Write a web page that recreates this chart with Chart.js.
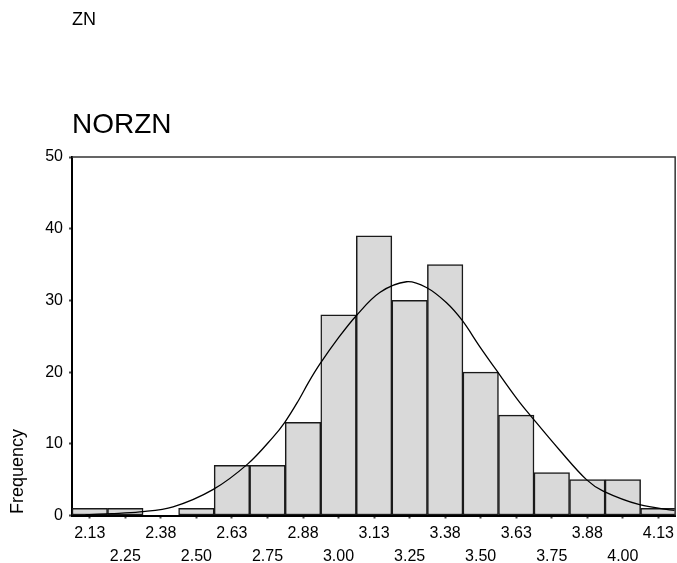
<!DOCTYPE html>
<html>
<head>
<meta charset="utf-8">
<script src="https://cdn.jsdelivr.net/npm/chart.js@4"></script>
<style>
  html, body { margin: 0; padding: 0; background: #ffffff; }
  #wrap { width: 677px; height: 563px; position: relative; }
</style>
</head>
<body>
<div id="wrap"><canvas id="c" width="677" height="563"></canvas></div>
<script>
// ---- data ----
const binCenters = [2.125, 2.25, 2.375, 2.5, 2.625, 2.75, 2.875, 3.0, 3.125, 3.25, 3.375, 3.5, 3.625, 3.75, 3.875, 4.0, 4.125];
const tickLabels = ["2.13", "2.25", "2.38", "2.50", "2.63", "2.75", "2.88", "3.00", "3.13", "3.25", "3.38", "3.50", "3.63", "3.75", "3.88", "4.00", "4.13"];
const counts = [1, 1, 0, 1, 7, 7, 13, 28, 39, 30, 35, 20, 14, 6, 5, 5, 1];
const curveX = [2.11, 2.20, 2.301, 2.418, 2.558, 2.681, 2.769, 2.811, 2.857, 2.895, 2.934, 3.000, 3.063, 3.145, 3.239, 3.309, 3.379, 3.435, 3.496, 3.560, 3.631, 3.678, 3.778, 3.872, 3.931, 4.059, 4.182];
const curveY = [0.1, 0.25, 0.5, 1.2, 3.6, 7.2, 10.9, 13.0, 15.9, 18.6, 21.1, 24.8, 27.9, 31.1, 32.6, 31.8, 29.7, 27.2, 23.6, 20.0, 16.1, 13.8, 9.1, 5.0, 3.4, 1.5, 0.7];
const yTicks = [0, 10, 20, 30, 40, 50];
const varName = "ZN";
const chartTitle = "NORZN";
const yTitle = "Frequency";

const FONT = "'Liberation Sans', Arial, Helvetica, sans-serif";

const barData = binCenters.map((x, i) => ({ x: x, y: counts[i] }));
const lineData = curveX.map((x, i) => ({ x: x, y: curveY[i] }));

const textPlugin = {
  id: 'texts',
  afterDatasetsDraw(chart) {
    const ctx = chart.ctx;
    const a = chart.chartArea;
    ctx.save();
    ctx.strokeStyle = '#333';
    ctx.lineWidth = 1.5;
    ctx.beginPath();
    ctx.moveTo(a.left, a.top);
    ctx.lineTo(a.right, a.top);
    ctx.lineTo(a.right, a.bottom);
    ctx.stroke();
    ctx.restore();
  },
  afterDraw(chart) {
    const ctx = chart.ctx;
    ctx.save();
    ctx.fillStyle = '#000';
    ctx.textAlign = 'left';
    ctx.textBaseline = 'alphabetic';
    ctx.font = '18px ' + FONT;
    ctx.fillText(varName, 72, 25);
    ctx.font = '28px ' + FONT;
    ctx.fillText(chartTitle, 72, 133);
    ctx.translate(22.7, 471.5);
    ctx.rotate(-Math.PI / 2);
    ctx.textAlign = 'center';
    ctx.font = '18px ' + FONT;
    ctx.fillText(yTitle, 0, 0);
    ctx.restore();
  }
};

new Chart(document.getElementById('c'), {
  type: 'bar',
  data: {
    datasets: [
      {
        type: 'line',
        data: lineData,
        borderColor: '#000',
        borderWidth: 1.3,
        pointRadius: 0,
        tension: 0.35,
        fill: false,
        order: 0
      },
      {
        type: 'bar',
        data: barData,
        backgroundColor: '#d9d9d9',
        borderColor: '#1a1a1a',
        borderWidth: 1.5,
        borderSkipped: false,
        barPercentage: 1.0,
        categoryPercentage: 1.0,
        order: 1
      }
    ]
  },
  options: {
    responsive: false,
    animation: false,
    devicePixelRatio: 1,
    layout: { padding: { top: 157, right: 1.5, left: 0, bottom: 0 } },
    plugins: {
      legend: { display: false },
      tooltip: { enabled: false },
      title: { display: false }
    },
    scales: {
      x: {
        type: 'linear',
        offset: false,
        min: 2.0625,
        max: 4.184,
        afterBuildTicks(scale) {
          scale.ticks = binCenters.map(v => ({ value: v }));
        },
        afterFit(scale) { scale.height = 47.5; },
        grid: {
          offset: false,
          drawOnChartArea: false,
          drawTicks: true,
          tickLength: 3,
          tickWidth: 2,
          color: '#444'
        },
        border: { display: true, color: '#000', width: 2 },
        ticks: {
          autoSkip: false,
          maxRotation: 0,
          minRotation: 0,
          padding: 3,
          color: '#000',
          font: { family: FONT, size: 16, lineHeight: 1.45 },
          callback(value, index) {
            const lbl = tickLabels[index];
            return index % 2 === 0 ? [lbl] : ['', lbl];
          }
        }
      },
      y: {
        min: 0,
        max: 50,
        afterBuildTicks(scale) {
          scale.ticks = yTicks.map(v => ({ value: v }));
        },
        afterFit(scale) { scale.width = 72; },
        grid: {
          drawOnChartArea: false,
          drawTicks: true,
          tickLength: 3,
          tickWidth: 2,
          color: '#444'
        },
        border: { display: true, color: '#000', width: 2 },
        ticks: {
          padding: 6,
          color: '#000',
          font: { family: FONT, size: 16 }
        }
      }
    }
  },
  plugins: [textPlugin]
});
</script>
</body>
</html>
